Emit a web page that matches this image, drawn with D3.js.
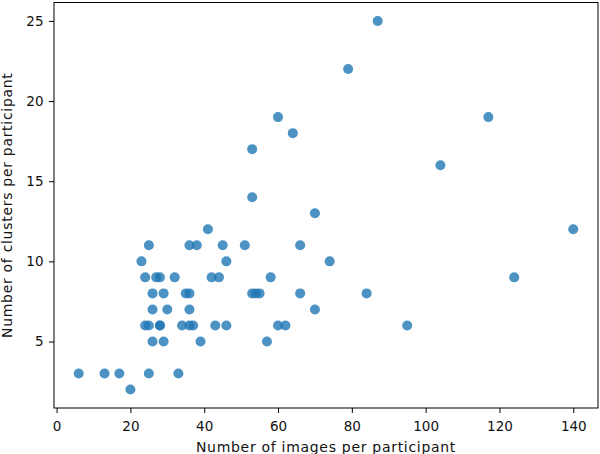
<!DOCTYPE html>
<html>
<head>
<meta charset="utf-8">
<script src="https://cdn.jsdelivr.net/npm/d3@7"></script>
<style>
  html, body { margin: 0; padding: 0; background: #fff; }
  svg { display: block; font-family: "DejaVu Sans", sans-serif; }
</style>
</head>
<body>
<svg id="chart" width="600" height="454"></svg>
<script>
// Data: number of images per participant (x) vs number of clusters per participant (y)
const imagesPerParticipant = [
  6, 13, 17, 20, 25, 33,
  23, 25, 24, 27, 28, 32, 24, 25, 28, 28,
  26, 26, 26, 29, 29, 30,
  34, 35, 36, 36, 36, 37, 38, 36, 39,
  41, 42, 44, 43, 45, 46, 46, 51,
  53, 53, 53, 54, 55, 57, 58, 60, 60, 62, 64,
  66, 66, 70, 70, 74, 79, 84, 87, 95, 104, 117, 124, 140
];
const clustersPerParticipant = [
  3, 3, 3, 2, 3, 3,
  10, 11, 9, 9, 9, 9, 6, 6, 6, 6,
  8, 7, 5, 8, 5, 7,
  6, 8, 8, 11, 6, 6, 11, 7, 5,
  12, 9, 9, 6, 11, 10, 6, 11,
  17, 14, 8, 8, 8, 5, 9, 19, 6, 6, 18,
  11, 8, 13, 7, 10, 22, 8, 25, 6, 16, 19, 9, 12
];
const xTicks = [0, 20, 40, 60, 80, 100, 120, 140];
const yTicks = [5, 10, 15, 20, 25];
const xLabel = "Number of images per participant";
const yLabel = "Number of clusters per participant";

const points = imagesPerParticipant.map((x, i) => ({ x, y: clustersPerParticipant[i] }));

const svg = d3.select("#chart");
const mLeft = 54, mRight = 598, mTop = 2.5, mBottom = 408;

const xMin = d3.min(imagesPerParticipant), xMax = d3.max(imagesPerParticipant);
const yMin = d3.min(clustersPerParticipant), yMax = d3.max(clustersPerParticipant);
const xPad = (xMax - xMin) * 0.05, yPad = (yMax - yMin) * 0.05;

const x = d3.scaleLinear().domain([xMin - xPad, xMax + xPad]).range([mLeft, mRight]);
const y = d3.scaleLinear().domain([yMin - yPad, yMax + yPad]).range([mBottom, mTop]);

// points
svg.append("g")
  .selectAll("circle")
  .data(points)
  .join("circle")
  .attr("cx", d => x(d.x))
  .attr("cy", d => y(d.y))
  .attr("r", 5)
  .attr("fill", "#1f77b4")
  .attr("fill-opacity", 0.8);

// frame
svg.append("rect")
  .attr("x", mLeft).attr("y", mTop)
  .attr("width", mRight - mLeft).attr("height", mBottom - mTop)
  .attr("fill", "none").attr("stroke", "#000").attr("stroke-width", 1);

const xAxis = svg.append("g")
  .attr("transform", `translate(0,${mBottom})`)
  .call(d3.axisBottom(x).tickValues(xTicks).tickSize(5).tickFormat(d3.format("d")));
const yAxis = svg.append("g")
  .attr("transform", `translate(${mLeft},0)`)
  .call(d3.axisLeft(y).tickValues(yTicks).tickSize(5).tickPadding(5.5).tickFormat(d3.format("d")));

[xAxis, yAxis].forEach(a => {
  a.select(".domain").remove();
  a.selectAll(".tick line").attr("stroke", "#000");
  a.selectAll(".tick text")
    .attr("fill", "#111")
    .style("font-family", "DejaVu Sans, sans-serif")
    .style("font-size", "13.5px");
});
xAxis.selectAll(".tick text").attr("y", 22.7).attr("dy", 0);

svg.append("text")
  .attr("x", (mLeft + mRight) / 2)
  .attr("y", 452)
  .attr("text-anchor", "middle")
  .attr("fill", "#111")
  .style("font-size", "14px")
  .style("letter-spacing", "0.7px")
  .text(xLabel);

svg.append("text")
  .attr("transform", `translate(12,${(mTop + mBottom) / 2}) rotate(-90)`)
  .attr("text-anchor", "middle")
  .attr("fill", "#111")
  .style("font-size", "14px")
  .style("letter-spacing", "0.7px")
  .text(yLabel);
</script>
</body>
</html>
